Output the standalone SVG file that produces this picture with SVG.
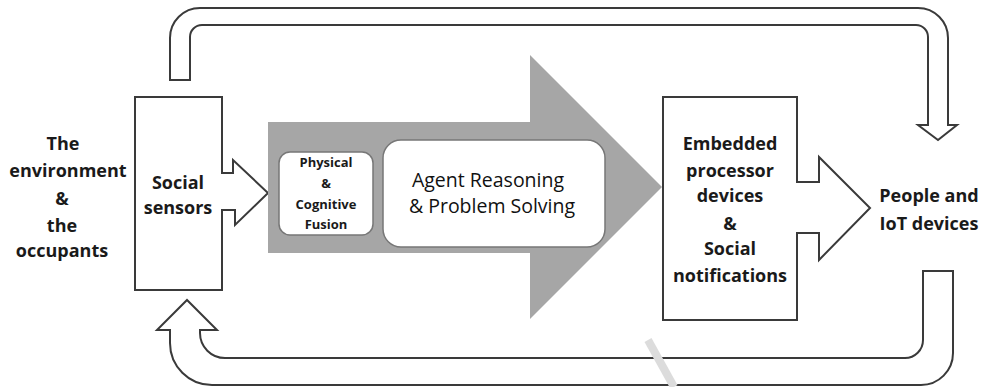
<svg xmlns="http://www.w3.org/2000/svg" width="981" height="387" viewBox="0 0 981 387">
<style>
.outline{fill:#fff;stroke:#3a3a3a;stroke-width:2;stroke-linejoin:miter}
.t{font-family:"Open Sans","Noto Sans",sans-serif;font-weight:bold;font-size:18px;fill:#1a1a1a;text-anchor:middle}
.s{font-family:"Open Sans","Noto Sans",sans-serif;font-weight:bold;font-size:13px;fill:#1a1a1a;text-anchor:middle}
.m{font-family:"Open Sans","Noto Sans",sans-serif;font-weight:normal;font-size:19.5px;fill:#111;text-anchor:middle}
.rb{fill:#fff;stroke:#777;stroke-width:1.5}
</style>
<rect width="981" height="387" fill="#fff"/>
<g id="connectors">
<path class="outline" d="M170,80 V38 A30,30 0 0 1 200,8 H918 A30,30 0 0 1 948,38 V125 H957 L938,140 L918,125 H928 V37 A12,12 0 0 0 916,25 H202 A12,12 0 0 0 190,37 V80 Z"/>
<path class="outline" d="M953,271 V353 A32,32 0 0 1 921,385 H212 A42,42 0 0 1 170,343 V330 H157 L187,300 L217,330 H200 V333 A25,25 0 0 0 225,358 H905 A18,18 0 0 0 923,340 V271 Z"/>
</g>
<g id="environment">
<text class="t" x="63" y="150">The</text>
<text class="t" x="68" y="177">environment</text>
<text class="t" x="62" y="205">&amp;</text>
<text class="t" x="62" y="232">the</text>
<text class="t" x="62" y="257">occupants</text>
</g>
<g id="social-sensors">
<path class="outline" d="M135,97 H222 V173 H233 V160 L268,193 L235,225 V210 H222 V290 H135 Z"/>
<text class="t" x="178" y="189">Social</text>
<text class="t" x="178" y="214">sensors</text>
</g>
<g id="reasoning">
<path d="M268,122 H530 V55 L662,187 L530,319 V253 H268 Z" fill="#a6a6a6"/>
</g>
<g id="fusion">
<rect class="rb" x="279" y="152" width="94" height="83" rx="11"/>
<text class="s" x="326" y="167">Physical</text>
<text class="s" x="326" y="188">&amp;</text>
<text class="s" x="326" y="209">Cognitive</text>
<text class="s" x="326" y="229">Fusion</text>
</g>
<g id="agent">
<rect class="rb" x="383" y="140" width="222" height="107" rx="18"/>
<text class="m" x="488" y="187">Agent Reasoning</text>
<text class="m" x="492" y="213">&amp; Problem Solving</text>
</g>
<g id="embedded">
<path class="outline" d="M663,97 H797 V182 H819 V157 L870,208 L819,260 V233 H797 V320 H663 Z"/>
<text class="t" x="730" y="150">Embedded</text>
<text class="t" x="730" y="177">processor</text>
<text class="t" x="730" y="202">devices</text>
<text class="t" x="730" y="230">&amp;</text>
<text class="t" x="730" y="255">Social</text>
<text class="t" x="730" y="282">notifications</text>
</g>
<g id="people">
<text class="t" x="929" y="202">People and</text>
<text class="t" x="929" y="230">IoT devices</text>
</g>
<line x1="648" y1="340" x2="674" y2="387" stroke="#dcdcdc" stroke-width="8"/>
</svg>
